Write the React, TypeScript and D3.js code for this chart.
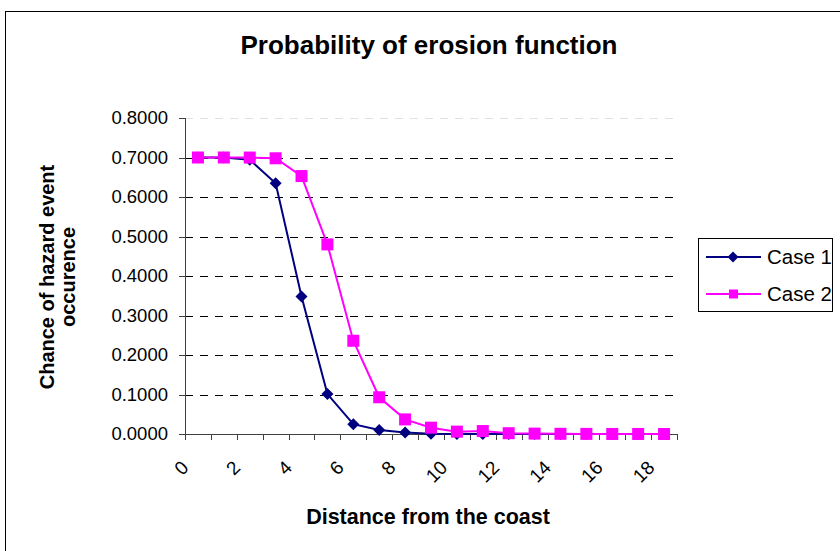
import React from "react";
import * as d3 from "d3";

const categories: number[] = [0, 1, 2, 3, 4, 5, 6, 7, 8, 9, 10, 11, 12, 13, 14, 15, 16, 17, 18];
const case1: number[] = [0.6999, 0.6998, 0.694, 0.635, 0.348, 0.101, 0.025, 0.01, 0.004, 0.0008, 0.0003, 0.0001, 0, 0, 0, 0, 0, 0, 0];
const case2: number[] = [0.7, 0.7, 0.6999, 0.698, 0.653, 0.48, 0.236, 0.093, 0.037, 0.016, 0.006, 0.0075, 0.002, 0.001, 0.0005, 0.0003, 0.0001, 0.0001, 0];
const yTicks: number[] = [0, 0.1, 0.2, 0.3, 0.4, 0.5, 0.6, 0.7, 0.8];
const xLabelCats: number[] = [0, 2, 4, 6, 8, 10, 12, 14, 16, 18];
const seriesNames: string[] = ["Case 1", "Case 2"];

const W = 840, H = 551;
const L = 185, R = 677, T = 118, B = 434;
const FONT = "'Liberation Sans', Arial, sans-serif";

export default function App() {
  const x = d3.scaleBand<number>().domain(categories).range([L, R]).padding(0);
  const y = d3.scaleLinear().domain([0, 0.8]).range([B, T]);
  const cx = (c: number) => (x(c) as number) + x.bandwidth() / 2;
  const line = d3.line<number>().x((_, i) => cx(categories[i])).y((d) => y(d));
  const fmt = d3.format(".4f");
  const tickEdges = d3.range(categories.length + 1).map((i) => L + i * x.bandwidth());
  const diamond = (px: number, py: number, r: number) =>
    `M${px},${py - r}L${px + r},${py}L${px},${py + r}L${px - r},${py}Z`;

  return (
    <svg width={W} height={H} style={{ position: "absolute", left: 0, top: 0, background: "#fff" }} fontFamily={FONT}>
      <rect x={5.5} y={11.5} width={900} height={700} fill="#fff" stroke="#000" strokeWidth={1} />
      <text x={429} y={54} textAnchor="middle" fontSize={26} fontWeight="bold">Probability of erosion function</text>

      {/* gridlines */}
      {yTicks.filter((t) => t > 0).map((t) => (
        <line key={t} x1={L} x2={R} y1={Math.round(y(t)) + 0.5} y2={Math.round(y(t)) + 0.5}
          stroke={t === 0.8 ? "#e0e0e0" : "#000"} strokeWidth={1} strokeDasharray="8,7" />
      ))}

      {/* axes */}
      <line x1={L + 0.5} x2={L + 0.5} y1={T} y2={B} stroke="#404040" strokeWidth={1} />
      <line x1={L} x2={R} y1={B + 0.5} y2={B + 0.5} stroke="#404040" strokeWidth={1} />
      {yTicks.map((t) => (
        <g key={t}>
          <line x1={L - 6} x2={L} y1={Math.round(y(t)) + 0.5} y2={Math.round(y(t)) + 0.5} stroke="#404040" />
          <text x={168} y={y(t)} dy="0.35em" textAnchor="end" fontSize={18.5}>{fmt(t)}</text>
        </g>
      ))}
      {tickEdges.map((e, i) => (
        <line key={i} x1={Math.round(e) + 0.5} x2={Math.round(e) + 0.5} y1={B} y2={B + 6} stroke="#404040" />
      ))}
      {xLabelCats.map((c) => (
        <text key={c} transform={`translate(${cx(c) - 13},${464}) rotate(-45)`} dy="0.35em" textAnchor="end" fontSize={19}>{c}</text>
      ))}

      {/* series */}
      <path d={line(case1) as string} fill="none" stroke="#000080" strokeWidth={2} />
      <path d={line(case2) as string} fill="none" stroke="#FF00FF" strokeWidth={2} />
      {case1.map((v, i) => (
        <path key={"d" + i} d={diamond(cx(categories[i]), y(v), 6)} fill="#000080" />
      ))}
      {case2.map((v, i) => (
        <rect key={"s" + i} x={cx(categories[i]) - 6} y={y(v) - 6} width={12} height={12} fill="#FF00FF" />
      ))}

      {/* axis titles */}
      <text x={428} y={524} textAnchor="middle" fontSize={21.5} fontWeight="bold">Distance from the coast</text>
      <g transform={`translate(47,${(T + B) / 2 + 1}) rotate(-90)`}>
        <text x={0} y={0} dy="0.35em" textAnchor="middle" fontSize={20} fontWeight="bold">Chance of hazard event</text>
        <text x={0} y={21} dy="0.35em" textAnchor="middle" fontSize={20} fontWeight="bold">occurence</text>
      </g>

      {/* legend */}
      <rect x={698.5} y={238.5} width={134} height={73} fill="#fff" stroke="#000" />
      {seriesNames.map((n, i) => {
        const ly = 257 + i * 37;
        const col = i === 0 ? "#000080" : "#FF00FF";
        return (
          <g key={n}>
            <line x1={706} x2={761} y1={ly} y2={ly} stroke={col} strokeWidth={2} />
            {i === 0 ? (
              <path d={diamond(733, ly, 5.5)} fill={col} />
            ) : (
              <rect x={729} y={ly - 4.5} width={9} height={9} fill={col} />
            )}
            <text x={767} y={ly} dy="0.35em" fontSize={20.5}>{n}</text>
          </g>
        );
      })}
    </svg>
  );
}
